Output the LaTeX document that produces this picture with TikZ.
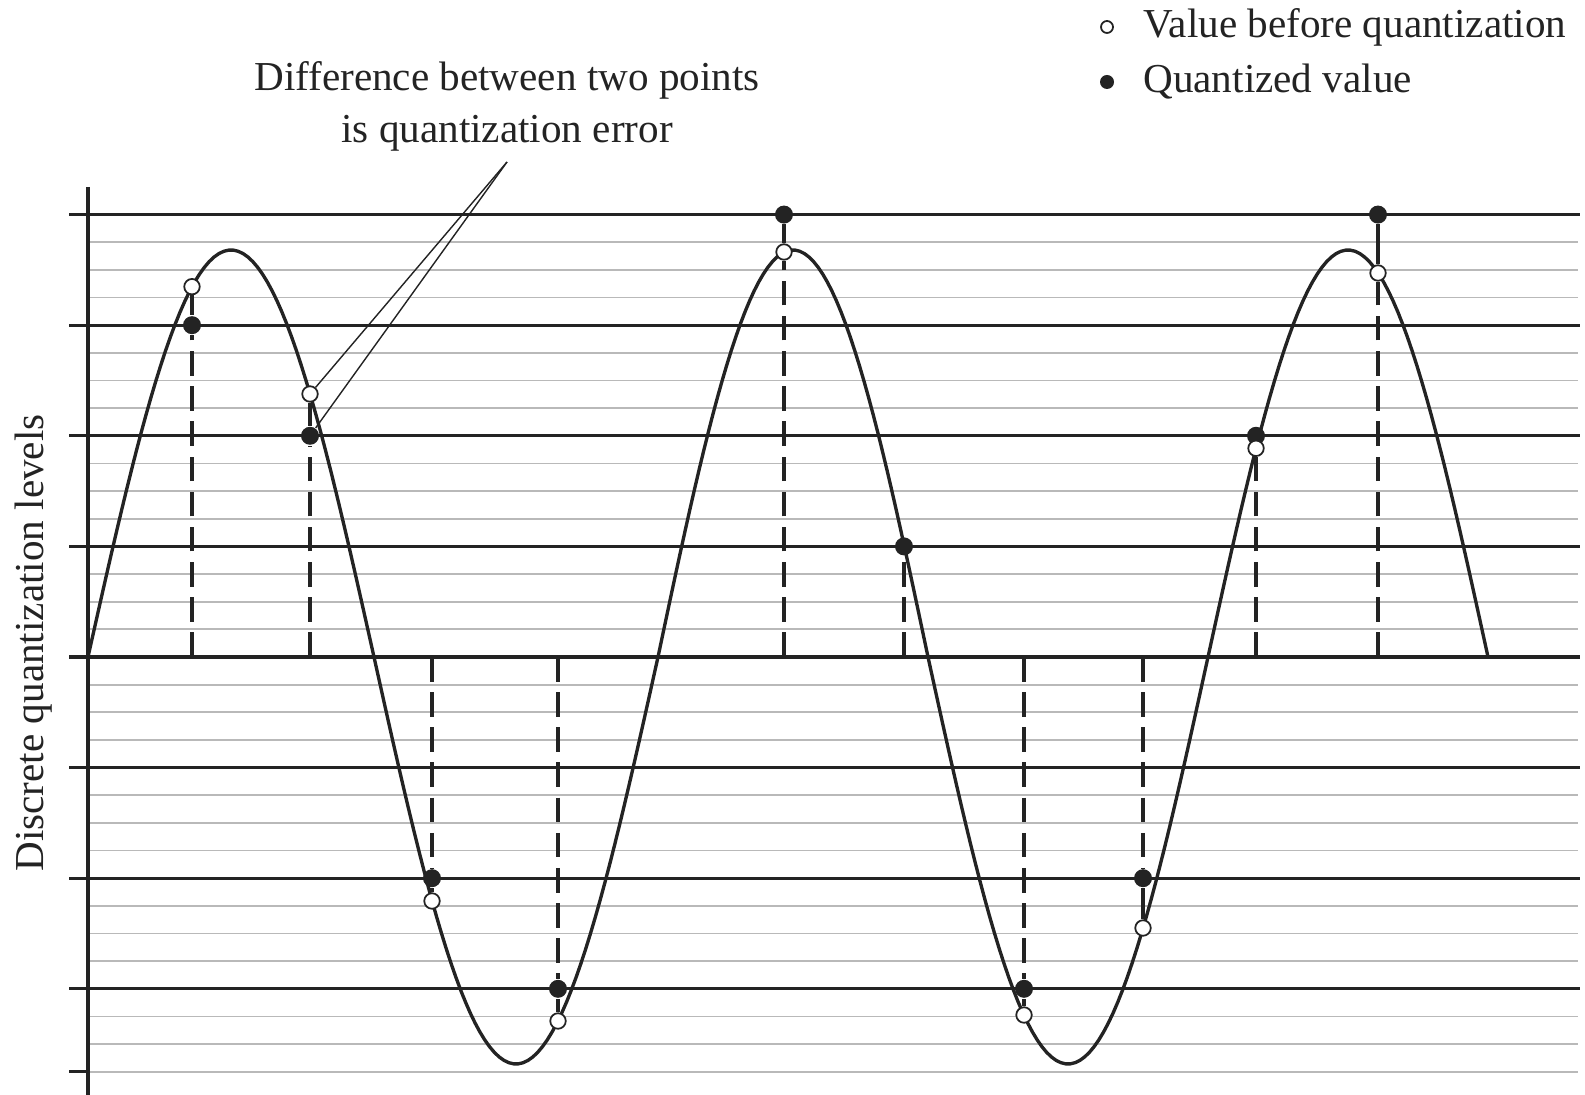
\documentclass[tikz,border=0pt]{standalone}
\usepackage{fontspec}
\setmainfont{Liberation Serif}
\usepackage{xcolor}
\usepackage{tikz}
\usetikzlibrary{positioning}
\definecolor{inkgray}{RGB}{35,35,35}
\definecolor{gridgray}{RGB}{185,185,185}

\begin{document}
\begin{tikzpicture}[
    x=0.01cm, y=-0.01cm,
    lbl/.style={inner sep=0pt, text=inkgray, font=\fontsize{11.7}{14.8}\selectfont},
    major/.style={draw=inkgray, line width=0.95pt},
    minor/.style={draw=gridgray, line width=0.5pt},
    wave/.style={draw=inkgray, line width=0.95pt, line cap=round},
    dashline/.style={draw=inkgray, line width=0.95pt, dash pattern=on 7pt off 3pt},
    errline/.style={draw=inkgray, line width=0.95pt},
    leader/.style={draw=inkgray, line width=0.4pt},
    qdot/.style={circle, fill=inkgray, inner sep=0pt, minimum size=0.18cm},
    odot/.style={circle, draw=inkgray, fill=white, line width=0.5pt, inner sep=0pt, minimum size=0.155cm},
]
\useasboundingbox (0,0) rectangle (1585,1095);

% Quantization levels
\foreach \k in {0,...,31}
  \draw[minor] (88,{214.6+27.65*\k}) -- (1578,{214.6+27.65*\k});
\foreach \k in {0,...,7}
  \draw[major] (69,{214.6+110.6*\k}) -- (1580,{214.6+110.6*\k});
\draw[major] (69,1071.7) -- (88,1071.7);
\draw[major] (88,187) -- (88,1095);

% Analog signal, one half-wave at a time
\foreach \a/\b/\s in {88/374/-1, 374/658/1, 658/928/-1, 928/1208/1, 1208/1488/-1}
  \draw[wave] plot[domain=\a:\b, samples=60] (\x, {657+\s*407*sin((\x-\a)/(\b-\a)*180)});

% Samples: quantized values
\foreach \i/\x/\q in {1/192/325.2, 2/310/435.8, 3/432/878.2, 4/558/988.8, 5/784/214.6,
                      6/904/546.4, 7/1024/988.8, 8/1143/878.2, 9/1256/435.8, 10/1378/214.6} {
  \coordinate (z\i) at (\x,657);
  \node[qdot] (q\i) at (\x,\q) {};
}
% Samples: values before quantization
\foreach \i/\x/\o in {1/192/286.7, 2/310/394, 3/432/901, 4/558/1021, 5/784/252,
                      7/1024/1015, 8/1143/928, 9/1256/448.3, 10/1378/273}
  \node[odot] (o\i) at (\x,\o) {};

% Sample lines
\foreach \i/\n in {1/q1, 2/q2, 3/q3, 4/q4, 5/o5, 6/q6, 7/q7, 8/q8, 9/o9, 10/o10}
  \draw[dashline] (z\i) -- (\n);
\foreach \i in {1,2,3,4,5,7,8,10}
  \draw[errline] (o\i) -- (q\i);

% Annotation
\node[lbl, align=center] (errtxt) at (507,106) {Difference between two points\\is quantization error};
\coordinate (tip) at (507,162);
\draw[leader] (tip) -- (o2);
\draw[leader] (tip) -- (q2);

% Axis label
\node[lbl, rotate=90] (ylab) at (34,643) {Discrete quantization levels};

% Legend
\node[odot, minimum size=0.12cm] (lgo) at (1107,27) {};
\node[lbl, right=0.29cm of lgo] (lgotxt) {Value before quantization};
\node[qdot, minimum size=0.14cm] (lgq) at (1107,82) {};
\node[lbl, right=0.28cm of lgq] (lgqtxt) {Quantized value};

\end{tikzpicture}
\end{document}
